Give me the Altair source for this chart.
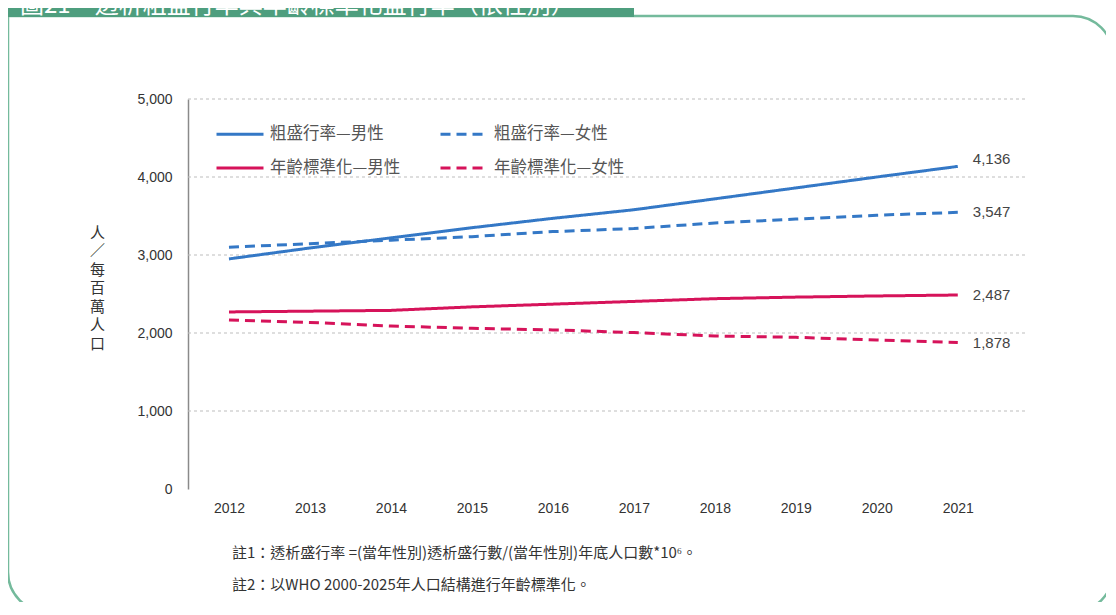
import altair as alt
import pandas as pd

YEARS = [2012, 2013, 2014, 2015, 2016, 2017, 2018, 2019, 2020, 2021]
SERIES = ["粗盛行率—男性", "粗盛行率—女性", "年齡標準化—男性", "年齡標準化—女性"]
CRUDE_M = [2950, 3090, 3220, 3350, 3470, 3580, 3720, 3860, 4000, 4136]
CRUDE_F = [3100, 3145, 3190, 3235, 3300, 3340, 3410, 3460, 3510, 3547]
STD_M = [2270, 2280, 2290, 2335, 2370, 2405, 2440, 2460, 2475, 2487]
STD_F = [2167, 2135, 2090, 2060, 2040, 2005, 1962, 1945, 1910, 1878]
Y_TICKS = [0, 1000, 2000, 3000, 4000, 5000]
GRID = [1000, 2000, 3000, 4000, 5000]

TITLE = "圖21　透析粗盛行率與年齡標準化盛行率（依性別）"
Y_TITLE = ["人", "／", "每", "百", "萬", "人", "口"]
NOTE1 = "註1：透析盛行率 =(當年性別)透析盛行數/(當年性別)年底人口數*10⁶。"
NOTE2 = "註2：以WHO 2000-2025年人口結構進行年齡標準化。"

BLUE = "#3478C6"
RED = "#D6135A"
GREEN = "#4E9E7E"
BORDER = "#74BA9C"
CJK = "Noto Sans CJK TC"
NUM = "Liberation Sans"

rows = []
for s, vals in zip(SERIES, [CRUDE_M, CRUDE_F, STD_M, STD_F]):
    for yr, v in zip(YEARS, vals):
        rows.append({"year": yr, "series": s, "value": v})
df = pd.DataFrame(rows)
one = pd.DataFrame({"k": [0]})
grid_df = pd.DataFrame({"g": GRID})

# legend fills column by column: order so rows read crude / standardised
LEG_ORDER = [SERIES[0], SERIES[2], SERIES[1], SERIES[3]]
COLORS = [BLUE, RED, BLUE, RED]
DASHES = [[1, 0], [1, 0], [10, 6], [10, 6]]

x_scale = alt.Scale(domain=[2011.494, 2021.83], nice=False, zero=False)
y_scale = alt.Scale(domain=[0, 5000], nice=False)

legend = alt.Legend(
    title=None, orient="none", legendX=27, legendY=10, columns=2,
    symbolType="stroke", symbolSize=2209, symbolStrokeWidth=3,
    labelFontSize=16.5, labelFont=CJK, labelColor="#555",
    rowPadding=-14, columnPadding=33, labelOffset=5, gridAlign="all",
)

color = alt.Color("series:N", scale=alt.Scale(domain=LEG_ORDER, range=COLORS), legend=legend)
dash = alt.StrokeDash("series:N", scale=alt.Scale(domain=LEG_ORDER, range=DASHES), legend=legend)

box = alt.Chart(one).mark_rect(
    fill="transparent", stroke=BORDER, strokeWidth=2.5,
    cornerRadiusTopRight=40, cornerRadiusBottomLeft=40, cornerRadiusBottomRight=40,
).encode(x=alt.value(-180), x2=alt.value(925), y=alt.value(-83), y2=alt.value(513))

band = alt.Chart(one).mark_rect(color=GREEN).encode(
    x=alt.value(-188), x2=alt.value(446), y=alt.value(-99), y2=alt.value(-82)
)
title = alt.Chart(one).mark_text(
    align="left", baseline="alphabetic", fontSize=24, font=CJK, color="white"
).encode(x=alt.value(-168), y=alt.value(-86), text=alt.value(TITLE))

grid = alt.Chart(grid_df).mark_rule(color="#bdbdbd", strokeDash=[3, 3], strokeWidth=1).encode(
    y=alt.Y("g:Q", scale=y_scale)
)

lines = alt.Chart(df).mark_line(strokeWidth=3).encode(
    x=alt.X("year:Q", scale=x_scale, axis=alt.Axis(
        values=YEARS, format="d", domain=False, ticks=False, grid=False,
        labelPadding=12, labelFontSize=14, labelColor="#333", labelFont=NUM, title=None)),
    y=alt.Y("value:Q", scale=y_scale, axis=alt.Axis(
        values=Y_TICKS, format=",.0f", grid=False, ticks=False, domain=True,
        domainColor="#8a8a8a", domainWidth=1.5, labelPadding=16,
        labelFontSize=14, labelColor="#333", labelFont=NUM,
        title=Y_TITLE, titleAngle=0, titleFont=CJK, titleFontSize=15,
        titleFontWeight="normal", titleColor="#333", titleLineHeight=18.5,
        titleX=-91, titleY=126, titleAlign="center", titleBaseline="top")),
    color=color,
    strokeDash=dash,
)

last = alt.Chart(df).transform_filter(alt.datum.year == YEARS[-1])
lab_top = last.transform_filter(alt.datum.series == SERIES[0]).mark_text(
    align="left", baseline="middle", dx=15, dy=-7, fontSize=15, font=NUM, color="#444"
).encode(x=alt.X("year:Q", scale=x_scale), y=alt.Y("value:Q", scale=y_scale),
         text=alt.Text("value:Q", format=",.0f"))
lab_rest = last.transform_filter(alt.datum.series != SERIES[0]).mark_text(
    align="left", baseline="middle", dx=15, dy=0, fontSize=15, font=NUM, color="#444"
).encode(x=alt.X("year:Q", scale=x_scale), y=alt.Y("value:Q", scale=y_scale),
         text=alt.Text("value:Q", format=",.0f"))

note1 = alt.Chart(one).mark_text(align="left", baseline="middle", fontSize=15, font=CJK, color="#333").encode(
    x=alt.value(44), y=alt.value(454), text=alt.value(NOTE1))
note2 = alt.Chart(one).mark_text(align="left", baseline="middle", fontSize=15, font=CJK, color="#333").encode(
    x=alt.value(44), y=alt.value(486), text=alt.value(NOTE2))

chart = alt.layer(box, band, title, grid, lines, lab_top, lab_rest, note1, note2).properties(
    width=837, height=390,
    padding={"left": 180, "top": 91, "right": 81, "bottom": 113},
    autosize=alt.AutoSizeParams(type="none"),
).configure_view(stroke=None)

chart.save("out.html", embed_options={"renderer": "svg", "actions": False})
